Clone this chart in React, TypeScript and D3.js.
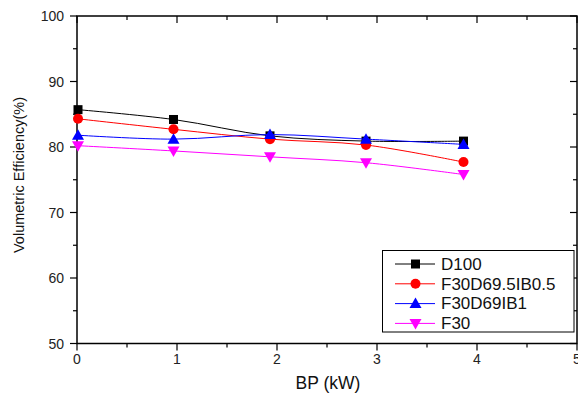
import React from "react";
import * as d3 from "d3";

const bp = [0.01, 0.965, 1.93, 2.89, 3.865];
const seriesNames = ["D100", "F30D69.5IB0.5", "F30D69IB1", "F30"];
const d100 = [85.7, 84.2, 81.7, 80.9, 80.9];
const f30d695 = [84.3, 82.7, 81.2, 80.3, 77.7];
const f30d69 = [81.8, 81.2, 81.9, 81.2, 80.4];
const f30 = [80.2, 79.4, 78.5, 77.6, 75.8];
const colors = ["#000000", "#ff0000", "#0000ff", "#ff00ff"];
const symbols = ["square", "circle", "triangle", "triangleDown"];
const xTicks = [0, 1, 2, 3, 4, 5];
const yTicks = [50, 60, 70, 80, 90, 100];

const W = 578, H = 396;
const x = d3.scaleLinear().domain([0, 5]).range([77, 577]);
const y = d3.scaleLinear().domain([50, 100]).range([343.5, 16]);
const FONT = "Liberation Sans, Arial, sans-serif";

function Marker({ kind, cx, cy, color }: { kind: string; cx: number; cy: number; color: string }) {
  if (kind === "square") return <rect x={cx - 4.5} y={cy - 4.5} width={9} height={9} fill={color} />;
  if (kind === "circle") return <circle cx={cx} cy={cy} r={5} fill={color} />;
  if (kind === "triangle")
    return <path d={`M${cx},${cy - 6}L${cx + 6},${cy + 4.5}L${cx - 6},${cy + 4.5}Z`} fill={color} />;
  return <path d={`M${cx},${cy + 6}L${cx + 6},${cy - 4.5}L${cx - 6},${cy - 4.5}Z`} fill={color} />;
}

export default function App() {
  const data = [d100, f30d695, f30d69, f30];
  const line = d3
    .line<number>()
    .x((_, i) => x(bp[i]))
    .y((v) => y(v))
    .curve(d3.curveCatmullRom.alpha(0.5));
  const minorX = d3.range(0.5, 5, 1);
  const minorY = d3.range(55, 100, 10);
  const x0 = x(0), x1 = x(5), yTop = y(100), yBot = y(50);
  return (
    <svg width={W} height={H} style={{ position: "absolute", left: 0, top: 0, background: "#fff" }}>
      <rect width={W} height={H} fill="#fff" />
      <rect x={x0} y={yTop} width={x1 - x0} height={yBot - yTop} fill="none" stroke="#000" strokeWidth={1.5} />
      {yTicks.map((t) => (
        <g key={"yl" + t}>
          <line x1={x0 - 7} x2={x0} y1={y(t)} y2={y(t)} stroke="#000" strokeWidth={1.2} />
          <line x1={x1 - 7} x2={x1} y1={y(t)} y2={y(t)} stroke="#000" strokeWidth={1.2} />
          <text x={x0 - 13} y={y(t) + 5} textAnchor="end" fontSize={14} fontFamily={FONT} fill="#222">
            {t}
          </text>
        </g>
      ))}
      {minorY.map((t) => (
        <g key={"ym" + t}>
          <line x1={x0 - 4} x2={x0} y1={y(t)} y2={y(t)} stroke="#000" strokeWidth={1.2} />
          <line x1={x1 - 4} x2={x1} y1={y(t)} y2={y(t)} stroke="#000" strokeWidth={1.2} />
        </g>
      ))}
      {xTicks.map((t) => (
        <g key={"xb" + t}>
          <line x1={x(t)} x2={x(t)} y1={yBot} y2={yBot + 7} stroke="#000" strokeWidth={1.2} />
          <line x1={x(t)} x2={x(t)} y1={yTop} y2={yTop + 7} stroke="#000" strokeWidth={1.2} />
          <text x={x(t)} y={364} textAnchor="middle" fontSize={14} fontFamily={FONT} fill="#222">
            {t}
          </text>
        </g>
      ))}
      {minorX.map((t) => (
        <g key={"xm" + t}>
          <line x1={x(t)} x2={x(t)} y1={yBot} y2={yBot + 4} stroke="#000" strokeWidth={1.2} />
          <line x1={x(t)} x2={x(t)} y1={yTop} y2={yTop + 4} stroke="#000" strokeWidth={1.2} />
        </g>
      ))}
      {data.map((vals, si) => (
        <g key={"s" + si}>
          <path d={line(vals) || ""} fill="none" stroke={colors[si]} strokeWidth={1} />
          {vals.map((v, i) => (
            <Marker key={i} kind={symbols[si]} cx={x(bp[i])} cy={y(v)} color={colors[si]} />
          ))}
        </g>
      ))}
      <rect x={382.5} y={250.5} width={191.5} height={81.5} fill="#fff" stroke="#000" strokeWidth={1} />
      {seriesNames.map((n, i) => {
        const ly = 264 + i * 19.8;
        return (
          <g key={"lg" + i}>
            <line x1={395} x2={435} y1={ly} y2={ly} stroke={colors[i]} strokeWidth={1} />
            <Marker kind={symbols[i]} cx={415.5} cy={ly} color={colors[i]} />
            <text x={441} y={ly + 5.8} fontSize={17} fontFamily={FONT} fill="#111">
              {n}
            </text>
          </g>
        );
      })}
      <text x={328} y={389} textAnchor="middle" fontSize={17.5} fontFamily={FONT} fill="#111">
        BP (kW)
      </text>
      <text
        transform={`translate(24, 175) rotate(-90)`}
        textAnchor="middle"
        fontSize={14.5}
        fontFamily={FONT}
        fill="#111"
      >
        Volumetric Efficiency(%)
      </text>
    </svg>
  );
}
